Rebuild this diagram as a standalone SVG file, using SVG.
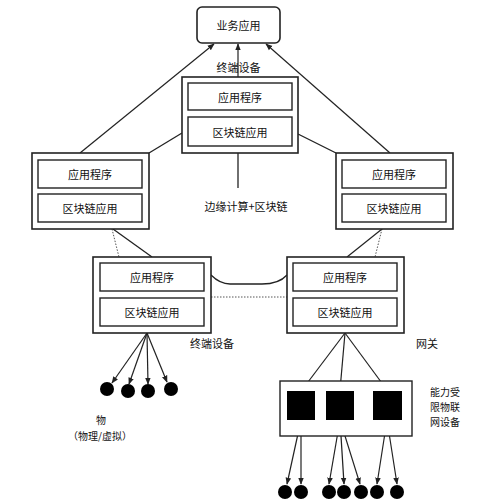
<svg xmlns="http://www.w3.org/2000/svg" width="499" height="500" viewBox="0 0 499 500">
<style>
.box{fill:#fff;stroke:#222;stroke-width:1.6}
.in{fill:#fff;stroke:#222;stroke-width:1.4}
.ln{fill:none;stroke:#222;stroke-width:1.3}
.dot{fill:none;stroke:#555;stroke-width:1;stroke-dasharray:1.5 1.5}
.ar{fill:none;stroke:#222;stroke-width:1.2;marker-end:url(#ah)}
text{font-family:"Noto Sans CJK SC","Noto Sans",sans-serif;font-size:11px;fill:#111;text-anchor:middle;dominant-baseline:central}
.sm{font-size:10px}
.blk{fill:#000}
.ball{fill:#000}
</style>
<defs>
<marker id="ah" viewBox="0 0 10 10" refX="9" refY="5" markerWidth="7" markerHeight="7" orient="auto" markerUnits="userSpaceOnUse">
<path d="M0,1 L10,5 L0,9 z" fill="#222"/>
</marker>
</defs>
<rect width="499" height="500" fill="#fff"/>
<g id="connectors">
<line class="ar" x1="80" y1="153" x2="214" y2="44"/>
<line class="ar" x1="238" y1="77" x2="238" y2="44"/>
<line class="ar" x1="390" y1="153" x2="266" y2="44"/>
<line class="ln" x1="149" y1="153" x2="182" y2="133"/>
<line class="ln" x1="298" y1="134" x2="336" y2="153"/>
<line class="ln" x1="238" y1="153" x2="238" y2="188"/>
<line class="ln" x1="113" y1="229" x2="152" y2="257"/>
<line class="dot" x1="112" y1="229" x2="119" y2="257"/>
<line class="ln" x1="382" y1="229" x2="347" y2="257"/>
<line class="dot" x1="382" y1="229" x2="375" y2="257"/>
<path class="ln" d="M211,275 Q220,284 230,284 L262,284 Q279,284 287,275"/>
<line class="dot" x1="211" y1="297" x2="287" y2="297"/>
<line class="ar" x1="147" y1="333" x2="112" y2="383"/>
<line class="ar" x1="147" y1="333" x2="129" y2="384"/>
<line class="ar" x1="147" y1="333" x2="148" y2="384"/>
<line class="ar" x1="147" y1="333" x2="167" y2="382"/>
<line class="ar" x1="345" y1="333" x2="302" y2="390"/>
<line class="ar" x1="345" y1="333" x2="340" y2="390"/>
<line class="ar" x1="345" y1="333" x2="387" y2="390"/>
<line class="ar" x1="301" y1="420" x2="287" y2="484"/>
<line class="ar" x1="301" y1="420" x2="301" y2="484"/>
<line class="ar" x1="340" y1="420" x2="329" y2="484"/>
<line class="ar" x1="340" y1="420" x2="344" y2="484"/>
<line class="ar" x1="340" y1="420" x2="360" y2="484"/>
<line class="ar" x1="387" y1="420" x2="377" y2="484"/>
<line class="ar" x1="387" y1="420" x2="397" y2="484"/>
</g>
<g id="business">
<rect class="box" x="197" y="7" width="83" height="36" rx="5"/>
<text x="238.5" y="25">业务应用</text>
</g>
<g id="top-device">
<text x="238.5" y="67">终端设备</text>
<rect class="box" x="182" y="77" width="116" height="76"/>
<rect class="in" x="188" y="83" width="104" height="27"/>
<text x="240" y="97">应用程序</text>
<rect class="in" x="188" y="117" width="104" height="29"/>
<text x="240" y="131.5">区块链应用</text>
</g>
<g id="left-node">
<rect class="box" x="32" y="153" width="117" height="76"/>
<rect class="in" x="38" y="160" width="104" height="28"/>
<text x="90" y="174">应用程序</text>
<rect class="in" x="38" y="194" width="104" height="28"/>
<text x="90" y="208">区块链应用</text>
</g>
<g id="right-node">
<rect class="box" x="336" y="153" width="117" height="76"/>
<rect class="in" x="342" y="160" width="104" height="28"/>
<text x="394" y="174">应用程序</text>
<rect class="in" x="342" y="194" width="104" height="28"/>
<text x="394" y="208">区块链应用</text>
</g>
<g id="edge-label">
<text x="246" y="206">边缘计算+区块链</text>
</g>
<g id="terminal">
<rect class="box" x="93" y="257" width="118" height="76"/>
<rect class="in" x="100" y="263" width="104" height="28"/>
<text x="152" y="277">应用程序</text>
<rect class="in" x="100" y="298" width="104" height="28"/>
<text x="152" y="312">区块链应用</text>
<text x="212" y="343">终端设备</text>
</g>
<g id="gateway">
<rect class="box" x="287" y="257" width="117" height="76"/>
<rect class="in" x="293" y="263" width="104" height="28"/>
<text x="345" y="277">应用程序</text>
<rect class="in" x="293" y="298" width="104" height="28"/>
<text x="345" y="312">区块链应用</text>
<text x="427" y="343">网关</text>
</g>
<g id="things">
<circle class="ball" cx="107" cy="389" r="7"/>
<circle class="ball" cx="128" cy="391" r="7"/>
<circle class="ball" cx="148" cy="391" r="7"/>
<circle class="ball" cx="171" cy="389" r="7"/>
<text class="sm" x="101" y="419">物</text>
<text class="sm" x="100" y="435">（物理/虚拟）</text>
</g>
<g id="constrained">
<rect class="in" x="280" y="381" width="132" height="55"/>
<rect class="blk" x="287" y="391" width="28" height="29"/>
<rect class="blk" x="326" y="391" width="28" height="29"/>
<rect class="blk" x="373" y="391" width="29" height="29"/>
<text class="sm" x="445" y="391">能力受</text>
<text class="sm" x="445" y="406">限物联</text>
<text class="sm" x="445" y="421">网设备</text>
</g>
<g id="leaf-things">
<circle class="ball" cx="285" cy="492" r="7"/>
<circle class="ball" cx="301" cy="492" r="7"/>
<circle class="ball" cx="329" cy="492" r="7"/>
<circle class="ball" cx="344" cy="492" r="7"/>
<circle class="ball" cx="361" cy="492" r="7"/>
<circle class="ball" cx="377" cy="492" r="7"/>
<circle class="ball" cx="397" cy="492" r="7"/>
</g>
</svg>
